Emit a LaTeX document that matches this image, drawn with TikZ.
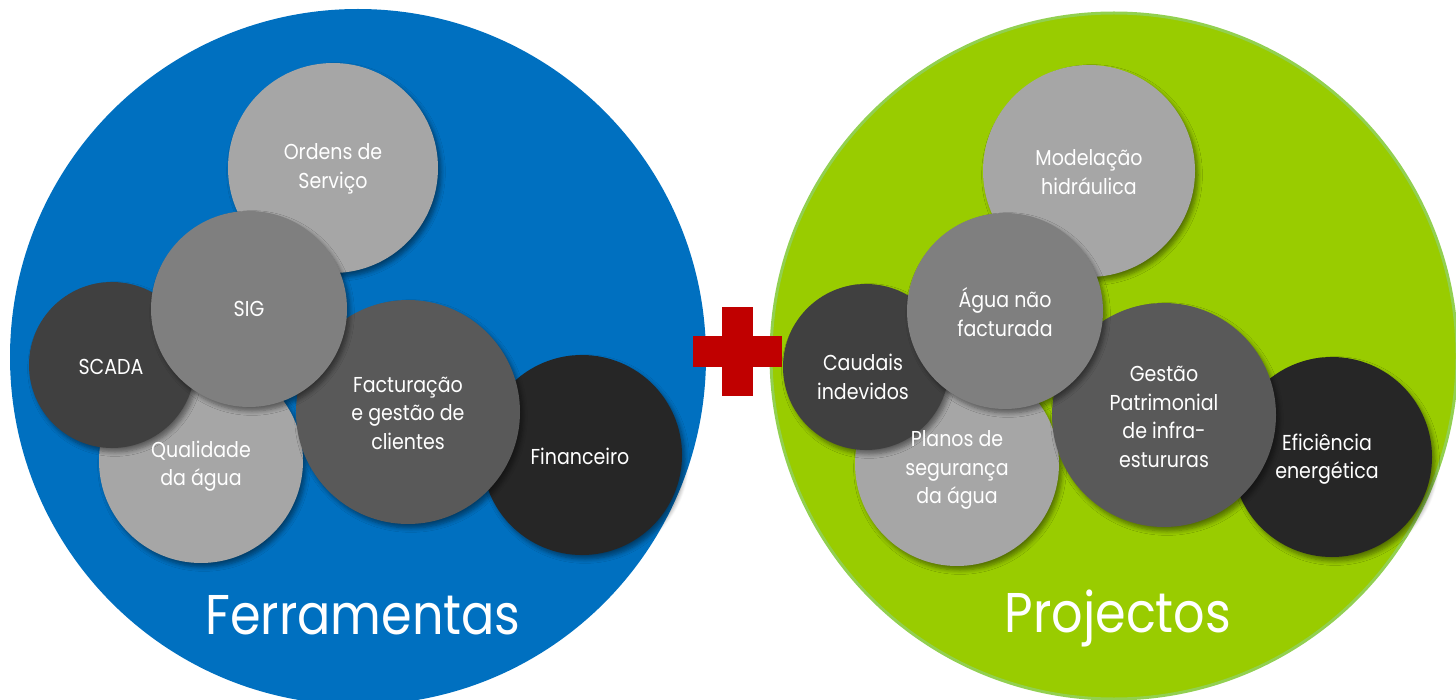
\documentclass[tikz,border=0pt]{standalone}
\usepackage{fontspec}
\setmainfont{Poppins}[FakeStretch=0.88]
\usetikzlibrary{shadows.blur}
\definecolor{ferrblue}{HTML}{0070C0}
\definecolor{projgreen}{HTML}{99CC00}
\definecolor{projrim}{HTML}{92D050}
\definecolor{plusred}{HTML}{C00000}
\definecolor{grayA}{HTML}{A6A6A6}
\definecolor{grayB}{HTML}{7F7F7F}
\definecolor{grayC}{HTML}{595959}
\definecolor{grayD}{HTML}{404040}
\definecolor{grayE}{HTML}{262626}
\begin{document}
\begin{tikzpicture}[x=0.5pt,y=-0.5pt,
	bubble/.style={circle,inner sep=0pt,blur shadow={shadow xshift=1.5pt,shadow yshift=-2pt,shadow blur steps=6,shadow opacity=45}},
	txt/.style={text=white,align=center,inner sep=0pt,font=\fontsize{10.8}{14.25}\selectfont},
	titletxt/.style={text=white,anchor=base,inner sep=0pt,font=\fontsize{28}{30}\selectfont}]
	\useasboundingbox (0,0) rectangle (1456,700);
	\clip (0,0) rectangle (1456,700);
	% big circles
	\node[circle,fill=ferrblue,minimum size=348pt,inner sep=0pt] (ferr) at (358,357) {};
	\node[circle,fill=projgreen,draw=projrim,line width=1.5pt,minimum size=343pt,inner sep=0pt] (proj) at (1114,356) {};
	% Ferramentas
	\node[bubble,fill=grayA,minimum size=105pt] (ord) at (333,168) {};
	\node[bubble,fill=grayE,minimum size=100pt] (fin) at (582,455) {};
	\node[bubble,fill=grayA,minimum size=102pt] (qual) at (201,461) {};
	\node[bubble,fill=grayC,minimum size=112pt] (fact) at (408,412) {};
	\node[bubble,fill=grayD,minimum size=83pt] (scada) at (112,365) {};
	\node[bubble,fill=grayB,minimum size=98pt] (sig) at (249,309) {};
	% Projectos
	\node[bubble,fill=grayA,minimum size=106pt] (mod) at (1089,171) {};
	\node[bubble,fill=grayE,minimum size=100pt] (efi) at (1332,457) {};
	\node[bubble,fill=grayA,minimum size=102pt] (plan) at (957,464) {};
	\node[bubble,fill=grayC,minimum size=112pt] (gest) at (1164,415) {};
	\node[bubble,fill=grayD,minimum size=83pt] (caud) at (866,367) {};
	\node[bubble,fill=grayB,minimum size=98pt] (agua) at (1005,311) {};
	% texts
	\node[txt] (ord-t) at (333,169) {Ordens de\\Serviço};
	\node[txt] (fin-t) at (580,456) {Financeiro};
	\node[txt] (qual-t) at (201,466) {Qualidade\\da água};
	\node[txt] (fact-t) at (408,413) {Facturação\\e gestão de\\clientes};
	\node[txt] (scada-t) at (111,367) {SCADA};
	\node[txt] (sig-t) at (249,309) {SIG};
	\node[txt] (mod-t) at (1089,172) {Modelação\\hidráulica};
	\node[txt] (efi-t) at (1327,459) {Eficiência\\energética};
	\node[txt] (plan-t) at (957,470) {Planos de\\segurança\\da água};
	\node[txt] (gest-t) at (1164,417) {Gestão\\Patrimonial\\de infra-\\estururas};
	\node[txt] (caud-t) at (863,377) {Caudais\\indevidos};
	\node[txt] (agua-t) at (1005,312) {Água não\\facturada};
	\node[titletxt] (ferr-t) at (363,634) {Ferramentas};
	\node[titletxt] (proj-t) at (1118,632) {Projectos};
	% plus sign
	\fill[plusred] (722,307) rectangle (753,396);
	\fill[plusred] (693,336) rectangle (782,367);
\end{tikzpicture}
\end{document}
